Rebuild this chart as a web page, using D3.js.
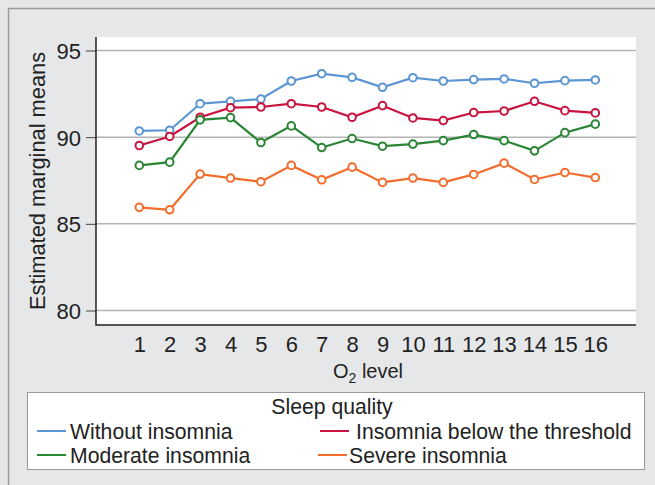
<!DOCTYPE html>
<html><head><meta charset="utf-8">
<script src="https://cdn.jsdelivr.net/npm/d3@7"></script>
<style>body{margin:0;background:#e6e7e9;}svg{display:block;font-family:"Liberation Sans",Arial,sans-serif;}</style>
</head><body>
<svg id="c" width="655" height="485"></svg>
<script>
const levels = [1,2,3,4,5,6,7,8,9,10,11,12,13,14,15,16];
const yTicks = [80,85,90,95];
const seriesNames = ["Without insomnia","Insomnia below the threshold","Moderate insomnia","Severe insomnia"];
const withoutInsomnia = [90.36,90.40,91.93,92.07,92.20,93.24,93.66,93.45,92.88,93.43,93.24,93.32,93.36,93.11,93.26,93.30];
const belowThreshold  = [89.52,90.04,91.15,91.70,91.74,91.93,91.74,91.15,91.82,91.11,90.96,91.42,91.51,92.07,91.53,91.40];
const moderateInsomnia= [88.37,88.56,91.00,91.13,89.69,90.65,89.40,89.92,89.48,89.60,89.80,90.15,89.80,89.21,90.26,90.75];
const severeInsomnia  = [85.95,85.81,87.87,87.64,87.43,88.37,87.54,88.27,87.39,87.64,87.39,87.85,88.50,87.56,87.96,87.67];
const colors = ["#5b95d2","#c8143e","#2a8534","#f36c2b"];
const allSeries = [withoutInsomnia,belowThreshold,moderateInsomnia,severeInsomnia];

const FF = "Liberation Sans, Arial, sans-serif";
const svg = d3.select("#c");
svg.append("rect").attr("x",0).attr("y",0).attr("width",655).attr("height",485).attr("fill","#e6e7e9");
svg.append("path").attr("d","M8.5,485 V8.5 H655").attr("fill","none").attr("stroke","#9a9a9a").attr("stroke-width",1.5);

const L=96, R=636, T=37, B=325;
svg.append("rect").attr("x",L).attr("y",T).attr("width",R-L).attr("height",B-T).attr("fill","#fff");

const x = d3.scaleLinear().domain([1,16]).range([139.3,595.3]);
const y = d3.scaleLinear().domain([80,95]).range([310.5,50.5]);

svg.append("g").selectAll("line").data(yTicks).join("line")
  .attr("x1",L).attr("x2",R).attr("y1",d=>y(d)).attr("y2",d=>y(d))
  .attr("stroke","#b4b4b4").attr("stroke-width",1.5);

const ya = svg.append("g").attr("transform",`translate(${L},0)`)
  .call(d3.axisLeft(y).tickValues(yTicks).tickSize(10).tickPadding(5));
ya.select(".domain").remove();
ya.selectAll(".tick line").attr("stroke","#444").attr("stroke-width",1);
ya.selectAll(".tick text").attr("font-size",22).attr("fill","#222").attr("font-family",FF).attr("dy","0.36em");

const xa = svg.append("g").attr("transform",`translate(0,${B})`)
  .call(d3.axisBottom(x).tickValues(levels).tickSize(0).tickPadding(11.4).tickFormat(d3.format("d")));
xa.select(".domain").remove();
xa.selectAll(".tick text").attr("font-size",22).attr("fill","#222").attr("font-family",FF);

svg.append("path").attr("d",`M${L},${T} V${B} H${R}`).attr("fill","none").attr("stroke","#222").attr("stroke-width",1.5);

const line = d3.line().x((d,i)=>x(levels[i])).y(d=>y(d));
allSeries.forEach((s,k)=>{
  svg.append("path").datum(s).attr("d",line).attr("fill","none").attr("stroke",colors[k]).attr("stroke-width",2.2);
  svg.append("g").selectAll("circle").data(s).join("circle")
    .attr("cx",(d,i)=>x(levels[i])).attr("cy",d=>y(d)).attr("r",3.8)
    .attr("fill","#fff").attr("stroke",colors[k]).attr("stroke-width",2);
});

svg.append("text").attr("transform","translate(45,181) rotate(-90)").attr("text-anchor","middle")
  .attr("font-size",21.8).attr("fill","#222").text("Estimated marginal means");
const xt = svg.append("text").attr("x",368).attr("y",378).attr("text-anchor","middle").attr("font-size",20).attr("fill","#222");
xt.append("tspan").text("O");
xt.append("tspan").attr("font-size",14).attr("dy",5).text("2");
xt.append("tspan").attr("dy",-5).text(" level");

svg.append("rect").attr("x",27.5).attr("y",392.5).attr("width",617).attr("height",77)
  .attr("fill","#fff").attr("stroke","#999").attr("stroke-width",1);
svg.append("text").attr("x",332).attr("y",414).attr("text-anchor","middle").attr("font-size",21.2).attr("fill","#222").text("Sleep quality");
const legPos = [[37,70,431],[320,356,431],[37,70,455],[318,349,455]];
seriesNames.forEach((n,k)=>{
  const [lx,tx,ly]=legPos[k];
  svg.append("line").attr("x1",lx).attr("x2",lx+29).attr("y1",ly).attr("y2",ly).attr("stroke",colors[k]).attr("stroke-width",2);
  svg.append("text").attr("x",tx).attr("y",ly+7.5).attr("font-size",21.2).attr("fill","#222").text(n);
});
</script>
</body></html>
